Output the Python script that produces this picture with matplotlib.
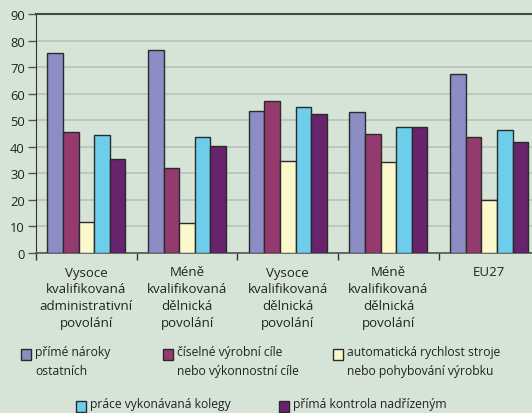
import matplotlib.pyplot as plt
from matplotlib.patches import Rectangle
import numpy as np

plt.rcParams['font.family'] = ['Open Sans', 'DejaVu Sans']

# data
kategorie = ['Vysoce\nkvalifikovaná\nadministrativní\npovolání',
             'Méně\nkvalifikovaná\ndělnická\npovolání',
             'Vysoce\nkvalifikovaná\ndělnická\npovolání',
             'Méně\nkvalifikovaná\ndělnická\npovolání',
             'EU27']
prime_naroky = [75.3, 76.5, 53.6, 53.0, 67.3]
ciselne_cile = [45.7, 32.0, 57.3, 44.8, 43.7]
automaticka = [11.8, 11.2, 34.5, 34.3, 20.1]
kolegove = [44.3, 43.5, 55.0, 47.3, 46.3]
nadrizeny = [35.4, 40.2, 52.2, 47.3, 41.8]

serie = [prime_naroky, ciselne_cile, automaticka, kolegove, nadrizeny]
legenda = ['přímé nároky\nostatních',
           'číselné výrobní cíle\nnebo výkonnostní cíle',
           'automatická rychlost stroje\nnebo pohybování výrobku',
           'práce vykonávaná kolegy',
           'přímá kontrola nadřízeným']
barvy = ['#8b8dc4', '#943a6e', '#fbf8cc', '#6fcdec', '#67236b']
pozadi = '#d6e4d8'

fig = plt.figure(figsize=(5.32, 4.14), dpi=100, facecolor=pozadi)
W, H = 532, 414
ax = fig.add_axes([36 / W, (H - 254) / H, (539.5 - 36) / W, (254 - 15) / H])
ax.set_facecolor(pozadi)

x = np.arange(len(kategorie)) + 0.5
sirka = 0.155
for i, (hodnoty, barva) in enumerate(zip(serie, barvy)):
    ax.bar(x + (i - 2) * sirka, hodnoty, sirka, color=barva,
           edgecolor='#2a2a2a', linewidth=1.0, zorder=3)

ax.set_xlim(0, 5)
ax.set_ylim(0, 90)
ax.set_yticks(range(0, 91, 10))
ax.yaxis.grid(True, color='#b9c2bb', linewidth=1.2, zorder=0)
ax.set_xticks(range(0, 6))
ax.set_xticklabels([])
ax.set_xticks(x, minor=True)
ax.set_xticklabels(kategorie, minor=True, fontsize=9.5, linespacing=1.38,
                   color='#222222')
ax.tick_params(axis='x', which='minor', length=0, pad=9)
ax.tick_params(axis='x', which='major', length=5, color='#333333', width=1)
ax.tick_params(axis='y', length=6, color='#555555', width=1, labelsize=9.3,
               labelcolor='#222222', pad=2)

ax.spines['right'].set_visible(False)
ax.spines['top'].set_color('#444444')
ax.spines['top'].set_linewidth(1.5)
ax.spines['left'].set_color('#333333')
ax.spines['bottom'].set_color('#555555')
ax.spines['bottom'].set_linewidth(1.2)

# legend placed manually
pozice = [(21, 355), (163, 355), (333, 355), (76, 407), (279, 407)]
for (px, py), barva, text in zip(pozice, barvy, legenda):
    fig.patches.append(Rectangle((px / W, 1 - (py + 5.5) / H), 10 / W, 11 / H,
                                 transform=fig.transFigure, facecolor=barva,
                                 edgecolor='#2a2a2a', linewidth=1.0))
    fig.text((px + 14) / W, 1 - (py - 9) / H, text, fontsize=8.7,
             va='top', ha='left', linespacing=1.6, color='#222222')

fig.savefig('out.png', dpi=100, facecolor=pozadi)
